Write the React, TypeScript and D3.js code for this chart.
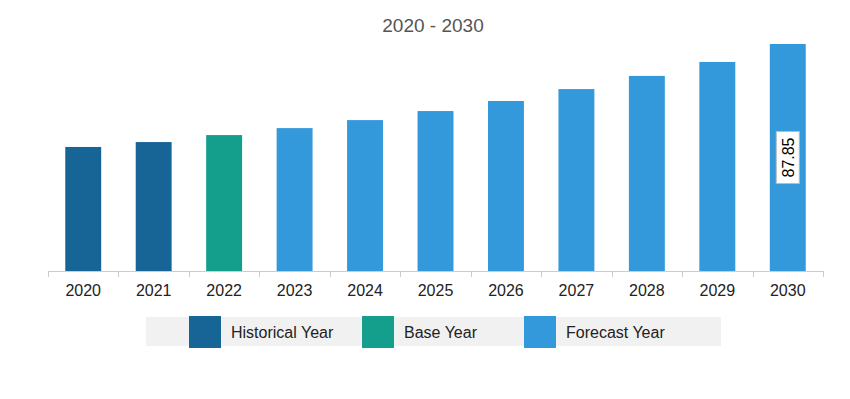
import React from "react";
import * as d3 from "d3";

const years = ["2020", "2021", "2022", "2023", "2024", "2025", "2026", "2027", "2028", "2029", "2030"];
const values = [48.0, 49.9, 52.6, 55.3, 58.4, 61.9, 65.8, 70.4, 75.5, 80.9, 87.85];
const types = ["hist", "hist", "base", "fore", "fore", "fore", "fore", "fore", "fore", "fore", "fore"];
const legendLabels = ["Historical Year", "Base Year", "Forecast Year"];
const legendKeys = ["hist", "base", "fore"];
const colors: Record<string, string> = { hist: "#176496", base: "#139f8b", fore: "#3399db" };

const W = 850, H = 399;
const FONT = "'Liberation Sans', Arial, sans-serif";

export default function App() {
  const x = d3.scaleBand<string>().domain(years).range([48, 823]).paddingInner(0.49).paddingOuter(0.245);
  const y = d3.scaleLinear().domain([0, 87.85]).range([271, 44]);
  const ticks = [48, ...years.map((yr) => (x(yr) as number) + x.bandwidth() + (x.step() - x.bandwidth()) / 2)];
  const last = years.length - 1;
  const lx = (x(years[last]) as number) + x.bandwidth() / 2;
  const ly = (y(values[last]) + y(0)) / 2;
  const legendX = [189, 362, 524];
  return (
    <svg width={W} height={H} style={{ position: "absolute", left: 0, top: 0 }}>
      <rect width={W} height={H} fill="#fff" />
      <text x={433} y={32} textAnchor="middle" fontFamily={FONT} fontSize={19} fill="#555">2020 - 2030</text>
      {years.map((yr, i) => (
        <rect key={yr} x={x(yr)} y={y(values[i])} width={x.bandwidth()} height={y(0) - y(values[i])} fill={colors[types[i]]} />
      ))}
      <line x1={48} x2={823} y1={271.5} y2={271.5} stroke="#ccc" />
      {ticks.map((t, i) => (
        <line key={i} x1={Math.round(t) + 0.5} x2={Math.round(t) + 0.5} y1={271} y2={277} stroke="#ccc" />
      ))}
      {years.map((yr) => (
        <text key={yr} x={(x(yr) as number) + x.bandwidth() / 2} y={296} textAnchor="middle" fontFamily={FONT} fontSize={16} fill="#222">{yr}</text>
      ))}
      <g transform={`translate(${lx},${ly})`}>
        <rect x={-11.5} y={-26} width={23} height={52} fill="#fff" stroke="#bbb" />
        <text transform="rotate(-90)" x={0} y={6} textAnchor="middle" fontFamily={FONT} fontSize={16} fill="#000">{values[last].toFixed(2)}</text>
      </g>
      <rect x={146} y={317} width={575} height={29} fill="#f1f1f1" />
      {legendKeys.map((k, i) => (
        <g key={k}>
          <rect x={legendX[i]} y={316} width={32} height={32} fill={colors[k]} />
          <text x={legendX[i] + 42} y={338} fontFamily={FONT} fontSize={16} fill="#222">{legendLabels[i]}</text>
        </g>
      ))}
    </svg>
  );
}
